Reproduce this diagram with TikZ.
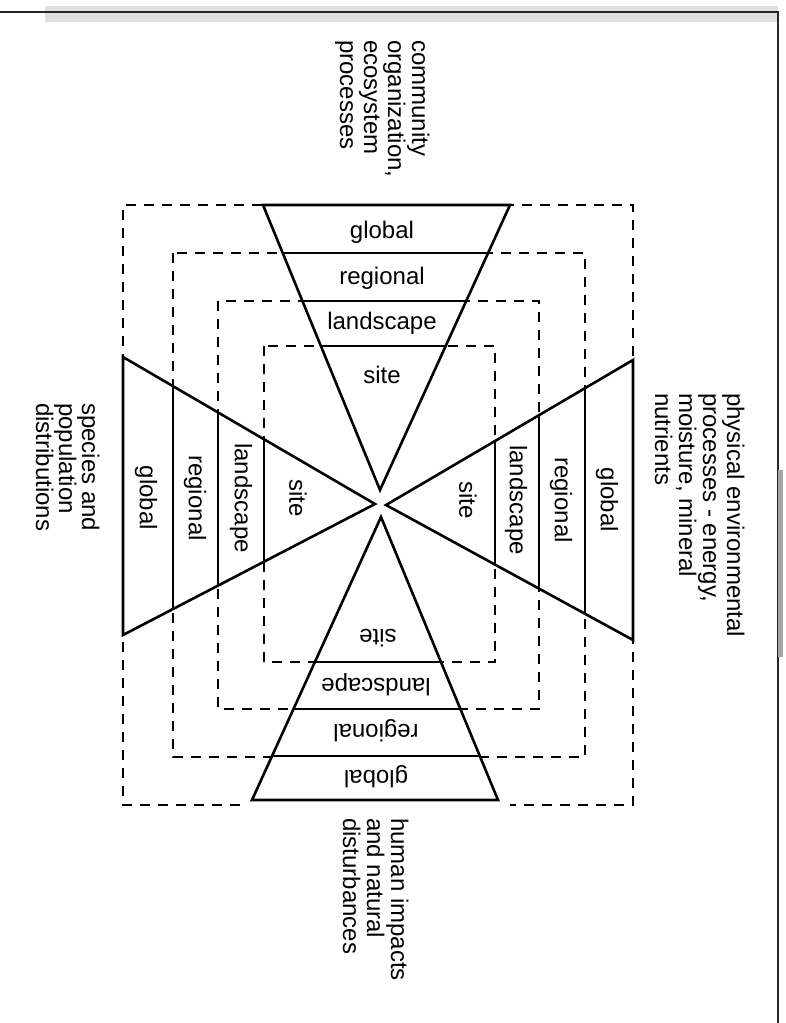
\documentclass[tikz,border=0pt]{standalone}
\usepackage{fontspec}
\setmainfont{Liberation Sans}
\usetikzlibrary{calc}
\begin{document}
\begin{tikzpicture}[x=1pt,y=-1pt,
  frame/.style={line width=2.6pt, line join=miter, fill=white},
  divider/.style={line width=1.5pt},
  zone/.style={line width=1.5pt, dash pattern=on 10pt off 8pt},
  pageedge/.style={line width=1.4pt, black!85},
  lab/.style={font=\fontsize{24}{24}\selectfont, inner sep=0pt},
  sidelab/.style={lab, rotate=-90},
  blockline/.style={lab, rotate=-90, anchor=base west},
]
\useasboundingbox (0,0) rectangle (785,1023);

% page edges
\fill[black!12] (45,6) rectangle (778,22);
\draw[pageedge] (0,12) -- (778,12) -- (778,1023);
\fill[black!35] (778,470) rectangle (783,657);

% nested dashed scale zones
\draw[zone] (240,805) -| (123,205) -- (633,205) |- (510,805);
\draw[zone] (173,253) rectangle (585,757);
\draw[zone] (218,301) rectangle (539,709);
\draw[zone] (264,346) rectangle (495,662);

% top wedge
\coordinate (tA) at (263,205);
\coordinate (tB) at (510,205);
\coordinate (tC) at (380,490);
\draw[frame] (tA) -- (tB) -- (tC) -- cycle;
\foreach \t in {0.1684,0.3368,0.4947}
  \draw[divider] ($(tA)!\t!(tC)$) -- ($(tB)!\t!(tC)$);
\node[lab] (tglobal) at (382,232) {global};
\node[lab] (tregional) at (382,278) {regional};
\node[lab] (tlandscape) at (382,323) {landscape};
\node[lab] (tsite) at (382,375) {site};

% bottom wedge
\coordinate (bA) at (252,800);
\coordinate (bB) at (498,800);
\coordinate (bC) at (381,517);
\draw[frame] (bA) -- (bB) -- (bC) -- cycle;
\foreach \t in {0.1555,0.3216,0.4876}
  \draw[divider] ($(bA)!\t!(bC)$) -- ($(bB)!\t!(bC)$);
\node[lab, rotate=180] (bglobal) at (376,777) {global};
\node[lab, rotate=180] (bregional) at (376,731) {regional};
\node[lab, rotate=180] (blandscape) at (376,685) {landscape};
\node[lab, rotate=180] (bsite) at (378,638) {site};

% left wedge
\coordinate (lA) at (123,357);
\coordinate (lB) at (123,635);
\coordinate (lC) at (375,504);
\draw[frame] (lA) -- (lB) -- (lC) -- cycle;
\foreach \t in {0.1984,0.3770,0.5595}
  \draw[divider] ($(lA)!\t!(lC)$) -- ($(lB)!\t!(lC)$);
\node[sidelab] (lglobal) at (146,498) {global};
\node[sidelab] (lregional) at (195,498) {regional};
\node[sidelab] (llandscape) at (241,498) {landscape};
\node[sidelab] (lsite) at (298,498) {site};

% right wedge
\coordinate (rA) at (633,360);
\coordinate (rB) at (633,640);
\coordinate (rC) at (386,505);
\draw[frame] (rA) -- (rB) -- (rC) -- cycle;
\foreach \t in {0.1943,0.3806,0.5587}
  \draw[divider] ($(rA)!\t!(rC)$) -- ($(rB)!\t!(rC)$);
\node[sidelab] (rglobal) at (607,500) {global};
\node[sidelab] (rregional) at (561,500) {regional};
\node[sidelab] (rlandscape) at (516,500) {landscape};
\node[sidelab] (rsite) at (468,500) {site};

% outer captions
\node[blockline] (c1) at (412,40) {community};
\node[blockline] (c2) at (388,40) {organization,};
\node[blockline] (c3) at (364,40) {ecosystem};
\node[blockline] (c4) at (340,40) {processes};

\node[blockline] (p1) at (727,393) {physical environmental};
\node[blockline] (p2) at (703,393) {processes - energy,};
\node[blockline] (p3) at (679,393) {moisture, mineral};
\node[blockline] (p4) at (655,393) {nutrients};

\node[blockline] (s1) at (82,403) {species and};
\node[blockline] (s2) at (59,403) {population};
\node[blockline] (s3) at (36,403) {distributions};

\node[blockline] (h1) at (391,818) {human impacts};
\node[blockline] (h2) at (367,818) {and natural};
\node[blockline] (h3) at (343,818) {disturbances};
\end{tikzpicture}
\end{document}
